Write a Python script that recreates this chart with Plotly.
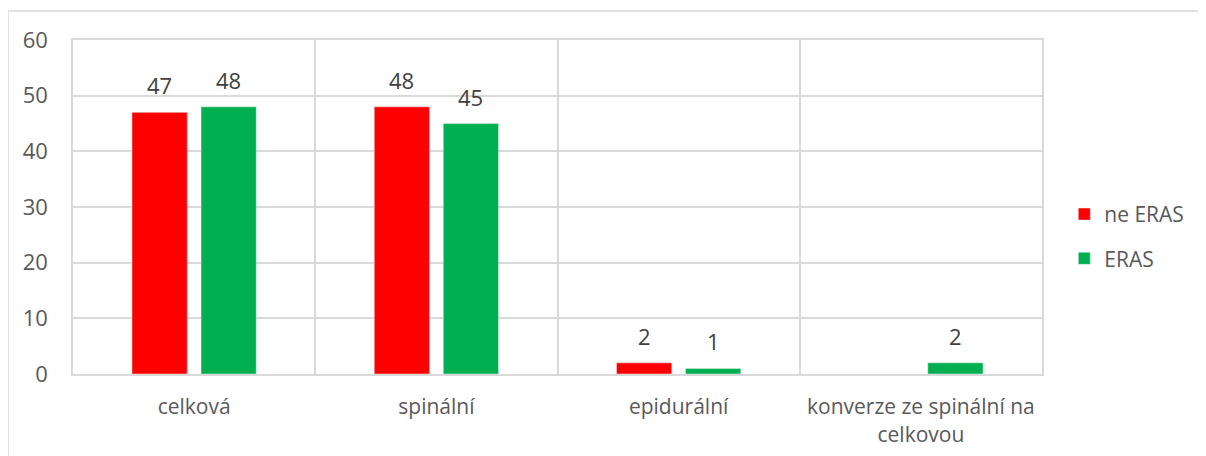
import plotly.graph_objects as go

categories = ["celková", "spinální", "epidurální", "konverze ze spinální na<br>celkovou"]
ne_eras = [47, 48, 2, None]
eras = [48, 45, 1, 2]

font_name = "Open Sans, Lato, sans-serif"
grey_text = "#595959"
label_text = "#404040"
grid = "#d9d9d9"

fig = go.Figure()

fig.add_trace(go.Bar(
    name="ne ERAS",
    x=categories,
    y=ne_eras,
    marker_color="#ff0000",
    legendgroup="a",
))

fig.add_trace(go.Bar(
    name="ERAS",
    x=categories,
    y=eras,
    marker_color="#00b050",
    legendgroup="b",
))

# data labels above the bars
for series, shift in ((ne_eras, -34.5), (eras, 34.5)):
    for cat, val in zip(categories, series):
        if val is None:
            continue
        fig.add_annotation(
            x=cat, y=val, text=str(val),
            showarrow=False, xshift=shift, yshift=27,
            yanchor="middle",
            font=dict(size=22, color=label_text),
        )

# outer frame of the chart area
fig.add_shape(
    type="rect", xref="paper", yref="paper",
    x0=-65 / 969, x1=(1220 - 73) / 969,
    y0=-0.3, y1=(374 - 11) / 334,
    line=dict(color=grid, width=1.5),
    layer="below"
)

fig.update_layout(
    width=1198,
    height=448,
    margin=dict(l=65, r=164, t=32, b=82),
    paper_bgcolor="white",
    plot_bgcolor="white",
    font=dict(family=font_name, size=22, color=grey_text),
    barmode="group",
    bargap=0.43,
    bargroupgap=0.2,
    showlegend=True,
    legend=dict(
        x=1.023, y=0.412, xanchor="left", yanchor="middle",
        font=dict(size=21, color=grey_text),
        itemwidth=30,
        tracegroupgap=14
    ),
)

fig.update_xaxes(
    tickson="boundaries",
    showgrid=True,
    gridcolor=grid,
    gridwidth=1.5,
    showline=True,
    linecolor=grid,
    linewidth=2,
    mirror=True,
    ticks="",
    ticklabelstandoff=13,
    automargin=False,
    tickfont=dict(size=21, color=grey_text),
)

fig.update_yaxes(
    range=[0, 60],
    dtick=10,
    showgrid=True,
    gridcolor=grid,
    gridwidth=1.5,
    zeroline=False,
    showline=True,
    linecolor=grid,
    linewidth=1.5,
    mirror=True,
    ticks="outside",
    ticklen=19,
    tickcolor="white",
    automargin=False,
    tickfont=dict(size=22, color=grey_text),
)

fig.write_html("out.html")
